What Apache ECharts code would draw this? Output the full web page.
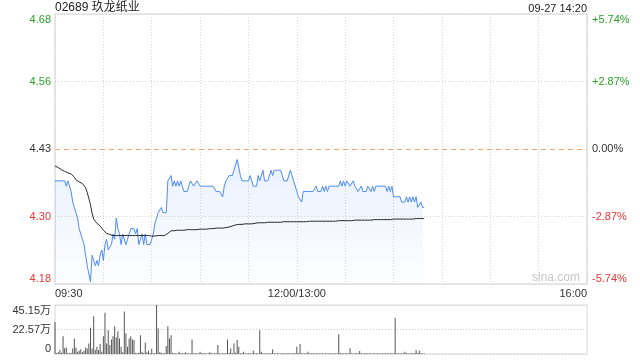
<!DOCTYPE html>
<html><head><meta charset="utf-8">
<script src="https://cdn.jsdelivr.net/npm/echarts@6/dist/echarts.min.js"></script>
<style>html,body{margin:0;padding:0;background:#fff}#c{width:640px;height:360px}</style>
</head><body><div id="c"></div>
<script>
const stockTitle = '02689 玖龙纸业';
const stamp = '09-27 14:20';
const watermark = 'sina.com';
const prevClose = 4.43;
const pctRange = 5.74;
const pctStep = 2.87;
const priceLabels = ['4.18', '4.30', '4.43', '4.56', '4.68'];
const pctLabels = ['-5.74%', '-2.87%', '0.00%', '+2.87%', '+5.74%'];
const volMax = 45.15;
const volLabels = ['0', '22.57万', '45.15万'];
const timeLabels = ['09:30', '12:00/13:00', '16:00'];
const timeLabelIndex = [0, 150, 330];

const price = [
4.37,4.37,4.37,4.37,4.37,4.37,4.37,4.36,4.37,4.37,
4.35,4.33,4.32,4.31,4.30,4.28,4.27,4.26,4.25,4.23,
4.21,4.21,4.18,4.23,4.22,4.21,4.22,4.21,4.23,4.24,
4.22,4.25,4.26,4.24,4.24,4.25,4.27,4.26,4.30,4.28,
4.27,4.25,4.27,4.27,4.25,4.26,4.27,4.28,4.28,4.28,
4.27,4.28,4.25,4.26,4.27,4.25,4.27,4.25,4.25,4.25,
4.26,4.27,4.29,4.30,4.31,4.31,4.32,4.31,4.31,4.31,
4.37,4.37,4.38,4.36,4.37,4.36,4.37,4.36,4.37,4.36,
4.35,4.35,4.35,4.36,4.37,4.37,4.36,4.36,4.37,4.37,
4.36,4.36,4.36,4.36,4.36,4.36,4.36,4.36,4.36,4.36,
4.35,4.35,4.35,4.35,4.34,4.36,4.37,4.37,4.38,4.38,
4.38,4.39,4.40,4.41,4.41,4.38,4.37,4.37,4.37,4.37,
4.37,4.38,4.37,4.36,4.36,4.36,4.38,4.37,4.37,4.39,
4.37,4.37,4.37,4.37,4.39,4.38,4.39,4.39,4.39,4.39,
4.39,4.39,4.37,4.37,4.37,4.37,4.39,4.38,4.37,4.37,
4.35,4.34,4.34,4.33,4.35,4.35,4.35,4.35,4.35,4.35,
4.35,4.35,4.36,4.35,4.35,4.35,4.36,4.35,4.36,4.35,
4.36,4.36,4.36,4.36,4.36,4.36,4.36,4.37,4.36,4.37,
4.36,4.37,4.37,4.36,4.36,4.37,4.36,4.36,4.35,4.35,
4.36,4.35,4.35,4.35,4.36,4.36,4.35,4.36,4.35,4.36,
4.36,4.36,4.36,4.36,4.36,4.36,4.35,4.36,4.35,4.36,
4.34,4.34,4.34,4.34,4.34,4.33,4.33,4.33,4.34,4.33,
4.34,4.33,4.34,4.33,4.34,4.32,4.32,4.33,4.32,4.32
];

const avgPrice = [
4.398,4.397,4.395,4.393,4.391,4.390,4.388,4.386,4.385,4.385,
4.383,4.380,4.377,4.372,4.370,4.368,4.366,4.365,4.362,4.357,
4.348,4.337,4.325,4.309,4.298,4.294,4.290,4.288,4.285,4.281,
4.277,4.274,4.271,4.270,4.269,4.268,4.267,4.267,4.267,4.267,
4.267,4.267,4.267,4.267,4.267,4.267,4.267,4.267,4.267,4.267,
4.267,4.267,4.267,4.267,4.267,4.267,4.267,4.267,4.267,4.267,
4.266,4.266,4.266,4.267,4.267,4.267,4.267,4.267,4.267,4.268,
4.271,4.274,4.276,4.276,4.276,4.277,4.277,4.277,4.277,4.277,
4.277,4.278,4.278,4.278,4.278,4.278,4.278,4.278,4.278,4.279,
4.279,4.279,4.279,4.279,4.279,4.280,4.280,4.280,4.280,4.280,
4.281,4.281,4.281,4.281,4.281,4.282,4.282,4.283,4.283,4.284,
4.285,4.286,4.287,4.288,4.288,4.288,4.288,4.288,4.289,4.289,
4.289,4.289,4.289,4.290,4.290,4.290,4.291,4.291,4.291,4.291,
4.291,4.291,4.292,4.292,4.292,4.292,4.292,4.292,4.292,4.292,
4.292,4.293,4.293,4.293,4.293,4.293,4.293,4.293,4.293,4.293,
4.293,4.293,4.293,4.293,4.293,4.293,4.293,4.294,4.294,4.294,
4.294,4.294,4.294,4.294,4.294,4.294,4.294,4.294,4.294,4.294,
4.294,4.294,4.294,4.294,4.294,4.294,4.295,4.295,4.295,4.295,
4.295,4.295,4.295,4.295,4.295,4.296,4.296,4.296,4.296,4.296,
4.296,4.296,4.296,4.296,4.296,4.296,4.296,4.297,4.297,4.297,
4.297,4.297,4.297,4.297,4.297,4.297,4.297,4.297,4.297,4.297,
4.298,4.298,4.298,4.298,4.298,4.298,4.298,4.298,4.298,4.298,
4.298,4.298,4.298,4.299,4.299,4.299,4.299,4.299,4.299,4.299
];

const volume = [
29.5,1.0,1.5,3.6,1.2,16.4,5.2,6.0,1.0,0.8,
1.2,5.0,14.3,6.0,2.0,3.0,4.3,1.5,3.0,6.0,
5.0,9.7,24.3,5.0,34.7,3.6,6.7,3.6,9.1,2.0,
16.4,38.0,9.7,21.9,8.2,13.4,16.4,25.5,15.2,21.0,
14.3,6.7,1.5,39.2,18.8,6.7,14.3,16.4,13.4,12.8,
1.0,0.8,1.2,17.3,2.1,1.0,10.3,1.5,3.0,1.0,
4.9,0.8,1.0,45.15,23.4,1.5,1.2,0.8,1.0,7.3,
25.5,14.3,17.3,1.0,0.6,0.8,0.5,2.1,0.6,0.8,
0.7,1.5,0.6,0.8,0.5,13.4,0.8,0.6,0.7,0.5,
2.0,0.6,0.8,0.6,0.5,0.7,1.5,0.6,0.5,0.8,
0.6,8.2,0.6,0.5,0.7,0.6,0.8,13.4,1.0,5.0,
0.8,9.7,1.2,12.8,6.7,0.8,0.6,2.0,0.7,0.5,
0.6,0.8,0.5,3.0,0.6,0.7,0.5,21.9,2.0,0.6,
0.5,0.8,0.6,0.5,0.7,4.3,0.6,0.5,0.8,0.6,
0.5,0.7,0.6,0.5,0.8,0.6,0.5,0.7,0.6,0.8,
6.7,0.8,9.1,0.6,0.5,0.7,0.6,2.0,0.5,0.6,
0.7,0.5,0.6,0.8,0.5,0.6,0.7,0.5,0.6,0.5,
0.6,0.7,0.5,0.6,0.5,0.8,18.2,1.0,0.6,0.5,
0.7,0.6,0.5,5.2,0.6,0.5,0.7,0.6,0.8,2.7,
0.6,0.5,0.7,0.6,0.5,0.6,0.7,0.5,0.6,0.5,
0.6,0.7,0.5,0.6,0.5,0.7,0.6,0.5,0.6,0.5,
0.8,33.4,0.7,0.6,0.5,0.8,0.6,2.0,0.7,0.6,
0.5,0.7,0.6,0.8,3.6,1.0,3.0,0.8,0.6,0.5
];

// minute categories for a HK trading day (09:30-12:00, 13:00-16:00)
const categories = [];
for (let i = 0; i <= 330; i++) {
  const k = timeLabelIndex.indexOf(i);
  if (k >= 0) { categories.push(timeLabels[k]); continue; }
  const t = i < 150 ? 570 + i : 780 + (i - 150);
  const h = Math.floor(t / 60), m = t % 60;
  categories.push((h < 10 ? '0' : '') + h + ':' + (m < 10 ? '0' : '') + m);
}

const FONT = "'Liberation Sans','Noto Sans CJK SC',sans-serif";
const GREEN = '#2ba02b', RED = '#ee3333', DARK = '#333';
const colorOf = v => v > 0.001 ? GREEN : (v < -0.001 ? RED : DARK);
const pIdx = v => Math.round((v + pctRange) / pctStep);

const chart = echarts.init(document.getElementById('c'), null, {renderer: 'canvas'});
chart.setOption({
  animation: false,
  backgroundColor: '#fff',
  title: [
    {text: stockTitle, left: 55, top: 2, padding: 0,
     textStyle: {fontSize: 12, fontWeight: 'normal', color: '#222', fontFamily: FONT}},
    {text: stamp, right: 53, top: 3, padding: 0,
     textStyle: {fontSize: 11, fontWeight: 'normal', color: '#222', fontFamily: FONT}}
  ],
  graphic: [{type: 'text', left: 532, top: 272, silent: true,
    style: {text: watermark, fill: '#c8c8c8', font: '12px ' + FONT}}],
  grid: [
    {left: 55, right: 53, top: 14, height: 270, show: true, borderColor: '#cfcfcf', borderWidth: 1},
    {left: 55, right: 53, top: 305, height: 49, show: true, borderColor: '#d8d8d8', borderWidth: 1}
  ],
  xAxis: [
    {type: 'category', gridIndex: 0, data: categories, boundaryGap: false,
     axisLine: {show: false}, axisTick: {show: false},
     axisLabel: {show: true, interval: i => timeLabelIndex.includes(i), margin: 4,
       fontSize: 11, color: DARK, fontFamily: FONT,
       alignMinLabel: 'left', alignMaxLabel: 'right'},
     splitLine: {show: true, interval: i => i % 30 === 0,
       lineStyle: {color: '#d6d6d6', type: [1, 2], width: 1}}},
    {type: 'category', gridIndex: 1, data: categories, boundaryGap: false,
     axisLine: {show: false}, axisTick: {show: false}, axisLabel: {show: false},
     splitLine: {show: false}}
  ],
  yAxis: [
    {type: 'value', gridIndex: 0, position: 'left', min: -pctRange, max: pctRange, interval: pctStep,
     axisLine: {show: false}, axisTick: {show: false},
     axisLabel: {margin: 4, fontSize: 11, fontFamily: FONT,
       formatter: v => priceLabels[pIdx(v)],
       color: v => colorOf(v),
       verticalAlignMinLabel: 'bottom', verticalAlignMaxLabel: 'top'},
     splitLine: {show: true, lineStyle: {color: ['#d6d6d6', '#d6d6d6', 'rgba(0,0,0,0)', '#d6d6d6', '#d6d6d6'], type: [1, 2]}}},
    {type: 'value', gridIndex: 0, position: 'right', min: -pctRange, max: pctRange, interval: pctStep,
     axisLine: {show: false}, axisTick: {show: false},
     axisLabel: {margin: 5, fontSize: 11, fontFamily: FONT,
       formatter: v => pctLabels[pIdx(v)],
       color: v => colorOf(v),
       verticalAlignMinLabel: 'bottom', verticalAlignMaxLabel: 'top'},
     splitLine: {show: false}},
    {type: 'value', gridIndex: 0, show: false,
     min: prevClose * (1 - pctRange / 100), max: prevClose * (1 + pctRange / 100),
     splitLine: {show: false}},
    {type: 'value', gridIndex: 1, position: 'left', min: 0, max: volMax, interval: volMax / 2,
     axisLine: {show: false}, axisTick: {show: false},
     axisLabel: {margin: 4, fontSize: 11, fontFamily: FONT, color: DARK,
       formatter: v => volLabels[Math.round(v / (volMax / 2))],
       verticalAlignMinLabel: 'bottom', verticalAlignMaxLabel: 'top'},
     splitLine: {show: true, lineStyle: {color: '#cfcfcf', type: [1, 2]}}}
  ],
  series: [
    {type: 'line', name: 'price', xAxisIndex: 0, yAxisIndex: 2, data: price,
     symbol: 'none', silent: true,
     lineStyle: {color: '#4d8cf5', width: 1},
     areaStyle: {origin: 'start', color: new echarts.graphic.LinearGradient(0, 0, 0, 1, [
       {offset: 0, color: 'rgba(77,140,245,0.17)'}, {offset: 1, color: 'rgba(77,140,245,0.02)'}])},
     markLine: {silent: true, symbol: 'none', label: {show: false},
       lineStyle: {color: '#f3a46c', type: [5, 4], width: 1},
       data: [{yAxis: prevClose}]}},
    {type: 'line', name: 'avg', xAxisIndex: 0, yAxisIndex: 2, data: avgPrice,
     symbol: 'none', silent: true, lineStyle: {color: '#2a2a2a', width: 1}},
    {type: 'bar', name: 'vol', xAxisIndex: 1, yAxisIndex: 3, data: volume,
     barWidth: 1, silent: true, itemStyle: {color: '#555'}}
  ]
});
</script>
</body></html>
